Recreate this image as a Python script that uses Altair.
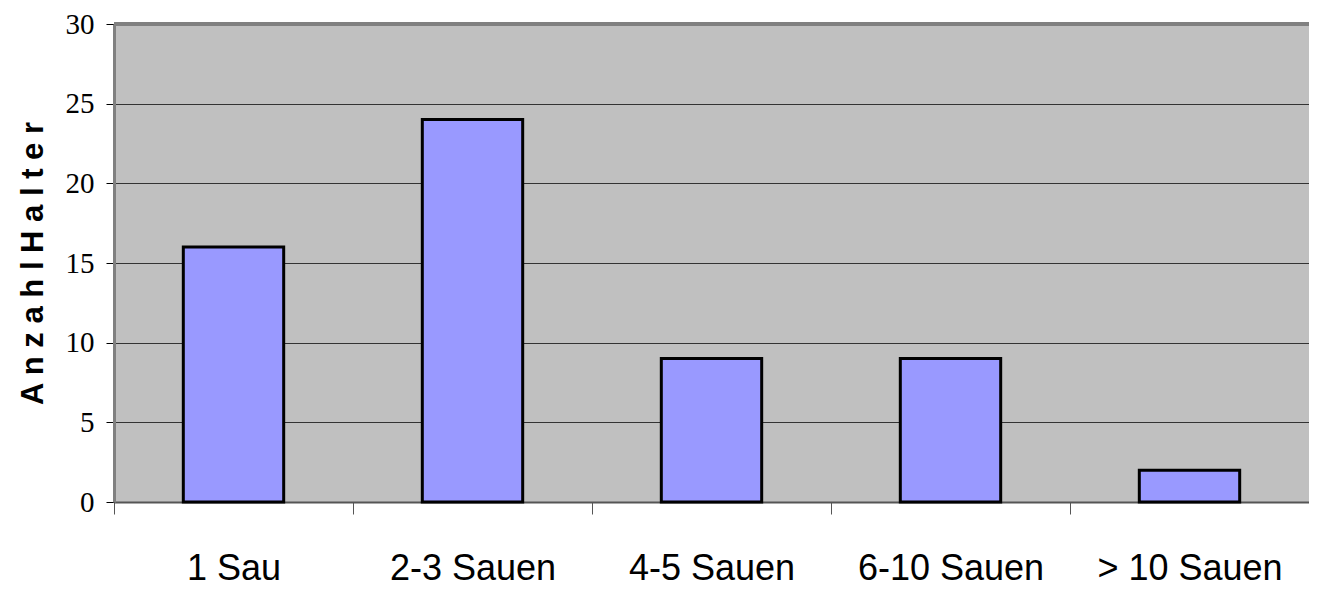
import altair as alt
import pandas as pd

categories = ["1 Sau", "2-3 Sauen", "4-5 Sauen", "6-10 Sauen", "> 10 Sauen"]
values = [16, 24, 9, 9, 2]
y_ticks = [0, 5, 10, 15, 20, 25, 30]

df = pd.DataFrame({"cat": categories, "val": values})

title = "A n z a h l  H a l t e r"

bars = alt.Chart(df).mark_bar(
    color="#9999FF", stroke="black", strokeWidth=3, width=alt.RelativeBandSize(0.42)
).encode(
    x=alt.X("cat:N", sort=categories, title=None,
            scale=alt.Scale(paddingInner=0, paddingOuter=0),
            axis=alt.Axis(labelAngle=0, labelFont="Liberation Sans", labelLimit=400,
                          labelFontSize=36, labelColor="black", labelPadding=37,
                          tickBand="extent", tickSize=12, tickColor="#555555",
                          domainColor="#555555", domainWidth=2, grid=False)),
    y=alt.Y("val:Q", title=title,
            scale=alt.Scale(domain=[0, 30]),
            axis=alt.Axis(values=y_ticks, labelFont="Liberation Serif",
                          labelFontSize=29, labelColor="black", labelPadding=12,
                          tickSize=8, tickColor="black", domainColor="#808080", domainWidth=3,
                          grid=True, gridColor="#333333", gridWidth=1,
                          titleFont="Liberation Sans", titleFontSize=31, titleFontWeight="bold",
                          titleColor="black", titlePadding=16)),
)

top = alt.Chart(df).mark_rule(color="#808080", strokeWidth=4).encode(
    y=alt.datum(30)
)

chart = alt.layer(bars, top).properties(
    width=1195, height=478,
    padding={"left": 106, "top": 16, "right": 0, "bottom": 85},
    autosize=alt.AutoSizeParams(type="none")
).configure_view(
    fill="#C0C0C0", stroke=None
)

chart.save("out.html", embed_options={"renderer": "svg", "actions": False})
